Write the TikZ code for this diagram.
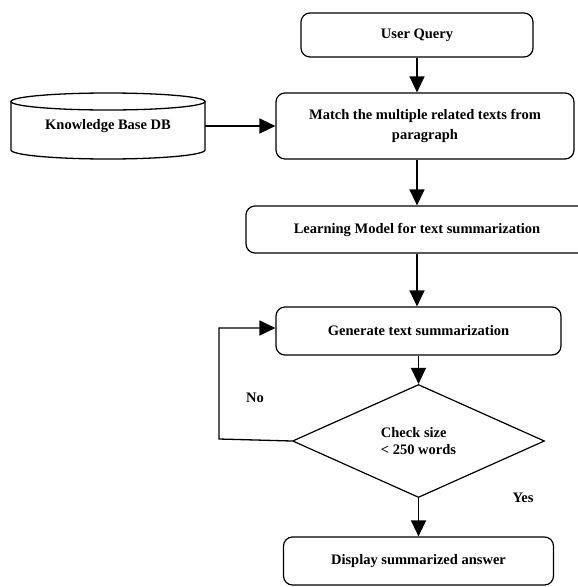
\documentclass[tikz,border=0pt]{standalone}
\usepackage{fontspec}
\setmainfont{Liberation Serif}
\usetikzlibrary{arrows.meta,shapes.geometric}
\tikzset{
  box/.style={draw, line width=1.2pt, rounded corners=9pt, inner sep=0pt, align=center,
    font=\bfseries\fontsize{14.5}{20}\selectfont},
  lbl/.style={inner sep=0pt, font=\bfseries\fontsize{14.5}{20}\selectfont},
  arr/.style={line width=1.3pt, -{Triangle[length=16pt,width=15pt]}},
  ln/.style={line width=1.3pt}
}
\begin{document}
\begin{tikzpicture}[x=1pt,y=-1pt]
\useasboundingbox (0,0) rectangle (578,587);
\node[box, minimum width=232pt, minimum height=44pt] (uq) at (417,35) {User Query};
\node[box, minimum width=298pt, minimum height=66pt] (match) at (425,126) {Match the multiple related texts from\\paragraph};
\node[box, minimum width=342pt, minimum height=47pt] (learn) at (417,229.5) {Learning Model for text summarization};
\node[box, minimum width=285pt, minimum height=48pt] (gen) at (418.5,331) {Generate text summarization};
\node[draw, diamond, line width=1.2pt, inner sep=0pt, aspect=2.2, minimum width=252pt, minimum height=113pt,
  align=left, font=\bfseries\fontsize{14.5}{17}\selectfont] (dec) at (418.5,441) {Check size\\< 250 words};
\node[box, minimum width=270pt, minimum height=48pt] (disp) at (418.5,561) {Display summarized answer};
% knowledge base cylinder
\node[lbl, minimum width=194pt, minimum height=66pt] (kb) at (108,126) {Knowledge Base DB};
\draw[ln] (108,101.5) ellipse [x radius=97pt, y radius=8.5pt];
\draw[ln] (11,101.5) -- (11,150) arc[start angle=180, end angle=360, x radius=97pt, y radius=9pt] -- (205,101.5);
% labels
\node[lbl] (no) at (255,398) {No};
\node[lbl] (yes) at (523,498) {Yes};
% connectors
\draw[arr] (uq.south) -- (uq.south |- match.north);
\draw[arr] (kb.east) -- (match.west);
\draw[arr] (match.south -| learn.north) -- (learn.north);
\draw[arr] (learn.south) -- (learn.south |- gen.north);
\draw[arr] (gen.south) -- (dec.north);
\draw[arr] (dec.south) -- (disp.north);
\coordinate (fb1) at (219,439);
\coordinate (fb2) at (219,328);
\draw[arr] (dec.west) -- (fb1) -- (fb2) -- (gen.west |- fb2);
\end{tikzpicture}
\end{document}
